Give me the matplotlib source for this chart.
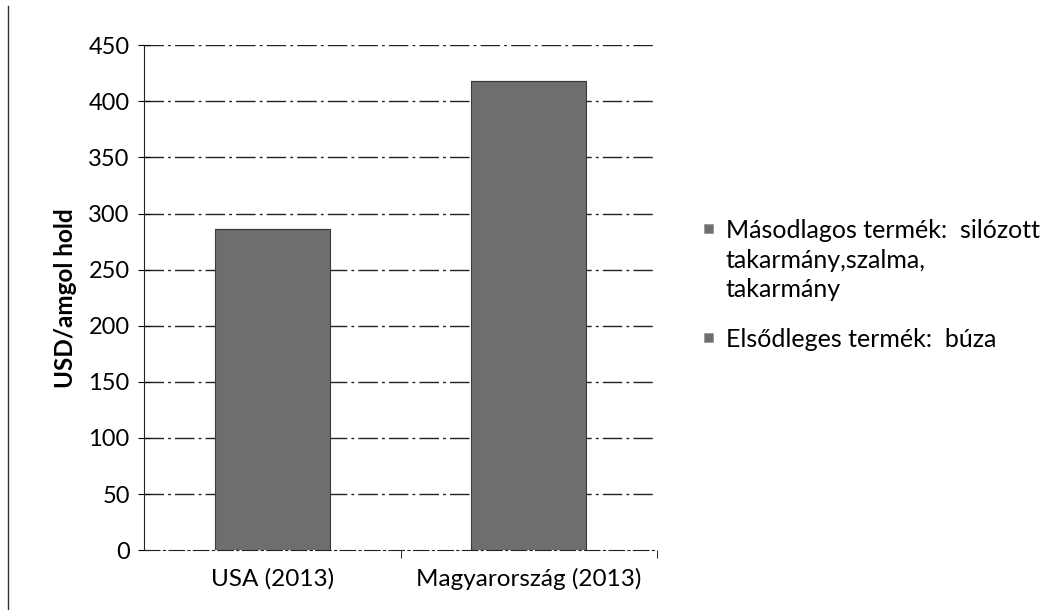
import matplotlib
matplotlib.use("Agg")
import matplotlib.pyplot as plt
from matplotlib.patches import Rectangle
from matplotlib.lines import Line2D

plt.rcParams['font.family'] = ['Lato', 'DejaVu Sans']

# data
categories = ['USA (2013)', 'Magyarország (2013)']
primary = [286, 418]      # Elsődleges termék: búza
secondary = [0, 0]        # Másodlagos termék (not distinguishable in the scan)
labels = ['Másodlagos termék:  silózott\ntakarmány,szalma,\ntakarmány',
          'Elsődleges termék:  búza']
yticks = [0, 50, 100, 150, 200, 250, 300, 350, 400, 450]

bar_color = '#6e6e6e'

fig = plt.figure(figsize=(10.46, 6.10), dpi=100)
ax = fig.add_axes([0.138, 0.098, 0.49, 0.828])

x = list(range(len(categories)))
ax.bar(x, primary, width=0.45, color=bar_color, edgecolor='#3a3a3a', linewidth=0.8, zorder=3)
ax.bar(x, secondary, bottom=primary, width=0.45, color=bar_color, edgecolor='#3a3a3a',
       linewidth=0.8, zorder=3)

ax.set_xlim(-0.5, 1.5)
ax.set_ylim(0, 450)
ax.set_yticks(yticks)
ax.set_xticks(x)
ax.set_xticklabels(categories, fontsize=17.5)
ax.set_xticks([0.5, 1.5], minor=True)
ax.tick_params(axis='x', which='major', length=0, pad=13)
ax.tick_params(axis='x', which='minor', length=6, direction='out', color='black')
ax.tick_params(axis='y', length=9, direction='inout', labelsize=17, pad=6)

for v in yticks[1:]:
    ax.axhline(v, color='#222222', lw=1.0, linestyle=(0, (14, 3, 2, 3)), zorder=1)

for s in ['top', 'right']:
    ax.spines[s].set_visible(False)
ax.spines['left'].set_color('#222222')
ax.spines['bottom'].set_color('#222222')
ax.spines['bottom'].set_linestyle((0, (14, 3, 2, 3)))

ax.set_ylabel('USD/amgol hold', fontsize=17.5, fontweight='bold', labelpad=8)

# legend: square aligned with the first line of each entry, like the original
W, H = 1046, 610
entry_tops = [219, 328]
for lab, top in zip(labels, entry_tops):
    fig.add_artist(Rectangle((704 / W, 1 - (top + 14) / H), 9 / W, 9 / H,
                             transform=fig.transFigure, facecolor=bar_color,
                             edgecolor='#999999', lw=0.6))
    fig.text(726 / W, 1 - top / H, lab, fontsize=18, va='top', ha='left',
             linespacing=1.35)

# left frame edge of the scanned page
fig.add_artist(Line2D([0.008, 0.008], [0.0, 0.99], color='#333333', lw=1.0))

fig.savefig('out.png', dpi=100, facecolor='white')
